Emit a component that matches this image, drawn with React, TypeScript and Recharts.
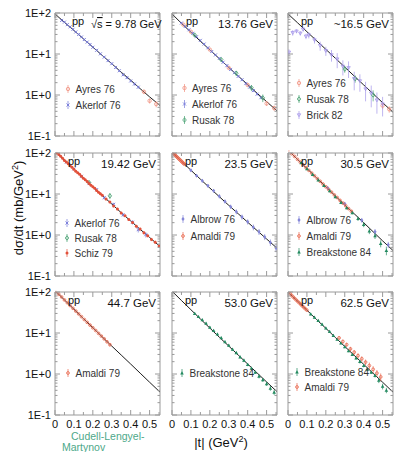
import React from 'react';
import { ComposedChart, Scatter, Line, XAxis, YAxis, ErrorBar } from 'recharts';

type Pt = [number, number, number?];

// ---------- model curve (Cudell-Lengyel-Martynov) ----------
const FIT_T = [0, 0.05, 0.1, 0.15, 0.2, 0.25, 0.3, 0.35, 0.4, 0.45, 0.5, 0.55, 0.6];
const FIT_978 = [95, 59, 37.5, 23.5, 14.7, 9.2, 5.8, 3.6, 2.3, 1.43, 0.9, 0.58, 0.37];
const FIT_1376 = [95, 56, 34, 20.5, 12.6, 7.7, 4.7, 2.9, 1.8, 1.1, 0.69, 0.43, 0.27];
const FIT_165 = [95, 58, 35, 21.3, 13, 7.9, 4.8, 2.9, 1.76, 1.07, 0.65, 0.4, 0.24];
const FIT_1942 = [112, 67, 40.5, 24.5, 15, 9.2, 5.7, 3.5, 2.2, 1.38, 0.87, 0.55, 0.35];
const FIT_235 = [105, 63, 38, 23, 14, 8.6, 5.3, 3.3, 2.05, 1.28, 0.8, 0.5, 0.32];
const FIT_305 = [118, 70, 42, 25, 15, 9, 5.4, 3.3, 2, 1.2, 0.72, 0.44, 0.27];
const FIT_447 = [108, 64, 38, 22.5, 13.5, 8, 4.8, 2.9, 1.75, 1.05, 0.63, 0.38, 0.23];
const FIT_530 = [105, 62, 37, 22, 13.2, 7.9, 4.8, 2.9, 1.75, 1.06, 0.64, 0.39, 0.24];
const FIT_625 = [100, 60, 36, 21.5, 13, 7.8, 4.7, 2.85, 1.72, 1.04, 0.63, 0.38, 0.23];

// ---------- data: [|t|, dsigma/dt, error] ----------
const AYRES_978: Pt[] = [[0.47, 1.2, 0.15], [0.5, 0.72, 0.1], [0.535, 0.6, 0.1]];
const AKERLOF_978: Pt[] = [
  [0.035, 66, 3], [0.05, 60, 3], [0.065, 52, 2.5], [0.08, 46, 2], [0.095, 40, 2], [0.11, 34.5, 1.5],
  [0.125, 30, 1.5], [0.14, 26, 1.2], [0.155, 22.5, 1], [0.17, 19.5, 1], [0.185, 17, 0.8], [0.2, 14.6, 0.7],
  [0.22, 12.3, 0.6], [0.24, 10.1, 0.5], [0.26, 8.4, 0.5], [0.28, 6.9, 0.4], [0.3, 5.8, 0.35], [0.32, 4.7, 0.3],
  [0.34, 3.9, 0.25], [0.36, 3.1, 0.2], [0.38, 2.65, 0.2], [0.4, 2.2, 0.15], [0.42, 1.85, 0.15], [0.44, 1.55, 0.12],
];

const AYRES_1376: Pt[] = [[0.06, 52, 3], [0.1, 35, 2], [0.2, 12.8, 0.8], [0.3, 4.6, 0.3], [0.4, 1.75, 0.15], [0.5, 0.62, 0.08], [0.54, 0.48, 0.07]];
const AKERLOF_1376: Pt[] = [
  [0.05, 57, 3], [0.07, 47, 2.5], [0.09, 39, 2], [0.11, 32, 1.5], [0.13, 26.5, 1.2], [0.15, 21.5, 1], [0.17, 17.5, 0.9],
  [0.19, 14.2, 0.7], [0.21, 11.5, 0.6], [0.23, 9.5, 0.5], [0.25, 7.8, 0.4], [0.27, 6.3, 0.35], [0.29, 5.2, 0.3],
  [0.31, 4.2, 0.25], [0.33, 3.5, 0.2], [0.35, 2.85, 0.18], [0.37, 2.35, 0.15], [0.39, 1.9, 0.12], [0.41, 1.55, 0.1],
  [0.43, 1.28, 0.1], [0.45, 1.05, 0.08], [0.47, 0.86, 0.07],
];
const RUSAK_1376: Pt[] = [[0.12, 29, 3], [0.26, 7.3, 0.8], [0.34, 3.4, 0.5], [0.42, 1.5, 0.25], [0.48, 0.85, 0.18]];

const AYRES_165: Pt[] = [[0.5, 0.55, 0.1], [0.535, 0.45, 0.08]];
const RUSAK_165: Pt[] = [[0.3, 4.3, 0.8], [0.355, 2.5, 0.5], [0.45, 1.0, 0.3]];
const BRICK_165: Pt[] = [
  [0.005, 11, 2], [0.025, 33, 5], [0.045, 36, 4], [0.065, 32, 4], [0.08, 40, 5], [0.095, 27, 4], [0.11, 29, 5],
  [0.14, 22, 4], [0.17, 16, 4], [0.2, 12, 3], [0.23, 9.5, 3], [0.26, 7.5, 3], [0.29, 5.0, 2], [0.32, 4.6, 2],
  [0.35, 2.5, 1.2], [0.38, 2.2, 1.0], [0.41, 1.4, 0.7], [0.44, 1.1, 0.6], [0.47, 0.75, 0.4], [0.5, 0.6, 0.3],
];

const AKERLOF_1942: Pt[] = [
  [0.06, 60, 4], [0.1, 41, 3], [0.14, 27, 2], [0.18, 18, 1.5], [0.22, 12.8, 1], [0.26, 8.1, 0.7],
  [0.31, 5.6, 0.5], [0.36, 3.1, 0.3], [0.41, 2.05, 0.25], [0.44, 1.35, 0.2], [0.48, 1.02, 0.15],
];
const RUSAK_1942: Pt[] = [[0.18, 19, 2], [0.29, 9, 1.5]];
const SCHIZ_1942: Pt[] = [
  [0.01, 100, 6], [0.02, 92, 5], [0.03, 83, 5], [0.04, 74, 4], [0.05, 66, 4], [0.06, 60, 3.5], [0.07, 55, 3],
  [0.08, 49, 2.8], [0.09, 45, 2.5], [0.1, 40, 2.2], [0.11, 36, 2], [0.12, 33, 1.9], [0.13, 30.5, 1.8],
  [0.14, 27, 1.6], [0.15, 24.2, 1.5], [0.16, 22.3, 1.3], [0.17, 20.3, 1.2], [0.18, 18, 1.1], [0.19, 16.3, 1],
  [0.2, 15, 1], [0.21, 13.8, 0.9], [0.22, 12.2, 0.8], [0.23, 11, 0.7], [0.24, 10.2, 0.7], [0.25, 9.3, 0.6],
  [0.27, 7.5, 0.5], [0.29, 6.4, 0.4], [0.31, 5.1, 0.35], [0.33, 4.3, 0.3], [0.35, 3.45, 0.25], [0.37, 2.95, 0.2],
  [0.39, 2.4, 0.18], [0.41, 2.02, 0.15], [0.43, 1.64, 0.13], [0.45, 1.4, 0.11], [0.47, 1.13, 0.1], [0.49, 0.96, 0.08],
  [0.51, 0.78, 0.07], [0.53, 0.67, 0.06], [0.55, 0.54, 0.05],
];

const ALBROW_235: Pt[] = [
  [0.1, 38, 3], [0.13, 28, 2], [0.16, 21, 2], [0.19, 16, 1.5], [0.22, 12, 1.2], [0.25, 8.8, 1], [0.28, 6.6, 0.7],
  [0.31, 4.9, 0.6], [0.34, 3.7, 0.5], [0.37, 2.75, 0.4], [0.4, 2.1, 0.3], [0.43, 1.55, 0.25], [0.46, 1.2, 0.2],
  [0.49, 0.9, 0.15], [0.52, 0.66, 0.12], [0.55, 0.48, 0.1],
];
const AMALDI_235: Pt[] = [
  [0.005, 100, 3], [0.01, 95, 3], [0.015, 90, 3], [0.02, 85.5, 3], [0.025, 81, 3], [0.03, 77, 2.5], [0.035, 73, 2.5],
  [0.04, 69.5, 2.5], [0.045, 66, 2], [0.05, 62.5, 2], [0.055, 59.5, 2], [0.06, 56.5, 2], [0.065, 53.5, 2],
];

const ALBROW_305: Pt[] = [[0.21, 14, 1.5], [0.3, 5.8, 0.6], [0.39, 2.3, 0.3], [0.46, 1.2, 0.2], [0.53, 0.58, 0.1]];
const AMALDI_305: Pt[] = [
  [0.005, 112, 4], [0.02, 96, 3], [0.035, 82.5, 3], [0.05, 70, 2.5], [0.065, 60, 2], [0.08, 51.5, 2], [0.095, 44, 1.5],
  [0.11, 37.8, 1.3], [0.125, 32.4, 1.2], [0.14, 27.8, 1], [0.155, 23.8, 0.9], [0.17, 20.4, 0.8], [0.185, 17.5, 0.7],
  [0.2, 15, 0.6], [0.215, 12.9, 0.5], [0.23, 11.1, 0.5], [0.245, 9.5, 0.4], [0.26, 8.2, 0.4], [0.275, 7.0, 0.35],
  [0.29, 6.0, 0.3], [0.305, 5.15, 0.3], [0.32, 4.4, 0.25], [0.335, 3.8, 0.25],
];
const BREAKSTONE_305: Pt[] = [
  [0.07, 58, 4], [0.1, 41, 3], [0.13, 30, 2], [0.16, 22, 1.5], [0.19, 16, 1.2], [0.22, 12, 1], [0.25, 8.6, 0.7],
  [0.28, 6.2, 0.5], [0.31, 4.6, 0.4], [0.34, 3.5, 0.3], [0.37, 2.5, 0.3], [0.4, 1.8, 0.25], [0.43, 1.25, 0.2],
  [0.46, 0.95, 0.15], [0.49, 0.62, 0.12], [0.52, 0.42, 0.1],
];

const AMALDI_447: Pt[] = [
  [0.005, 103, 4], [0.02, 88, 3], [0.035, 75.5, 3], [0.05, 64, 2.5], [0.065, 54.8, 2], [0.08, 46.8, 2], [0.095, 40, 1.5],
  [0.11, 34.2, 1.3], [0.125, 29.2, 1.2], [0.14, 25, 1], [0.155, 21.3, 0.9], [0.17, 18.2, 0.8], [0.185, 15.6, 0.7],
  [0.2, 13.4, 0.6], [0.215, 11.5, 0.5], [0.23, 9.8, 0.5], [0.245, 8.4, 0.4], [0.26, 7.2, 0.4], [0.275, 6.1, 0.35],
  [0.29, 5.2, 0.5],
];

const BREAKSTONE_530: Pt[] = [
  [0.12, 30, 2], [0.14, 25, 1.5], [0.16, 21, 1.2], [0.18, 17.3, 1], [0.2, 13.8, 0.9], [0.22, 11.4, 0.7], [0.24, 9.4, 0.6],
  [0.26, 7.6, 0.5], [0.28, 6.1, 0.4], [0.3, 5.0, 0.35], [0.32, 4.0, 0.3], [0.34, 3.3, 0.25], [0.36, 2.6, 0.2],
  [0.38, 2.15, 0.2], [0.4, 1.7, 0.15], [0.42, 1.38, 0.12], [0.44, 1.1, 0.1], [0.46, 0.88, 0.1], [0.48, 0.72, 0.08],
  [0.5, 0.58, 0.07], [0.52, 0.45, 0.06], [0.54, 0.36, 0.05],
];

const BREAKSTONE_625: Pt[] = [
  [0.12, 29, 2], [0.14, 24, 1.5], [0.16, 20, 1.2], [0.18, 16.4, 1], [0.2, 13.2, 0.9], [0.22, 10.8, 0.7], [0.24, 8.7, 0.6],
  [0.26, 7.0, 0.5], [0.28, 5.7, 0.4], [0.3, 4.6, 0.35], [0.32, 3.7, 0.3], [0.34, 3.0, 0.25], [0.36, 2.45, 0.2],
  [0.38, 2.0, 0.2], [0.4, 1.6, 0.15], [0.42, 1.3, 0.12], [0.44, 1.1, 0.1], [0.46, 0.92, 0.1], [0.48, 0.7, 0.1],
  [0.5, 0.5, 0.08], [0.52, 0.4, 0.06],
];
const AMALDI_625: Pt[] = [
  [0.004, 98, 3], [0.012, 90, 3], [0.02, 82, 3], [0.028, 75, 2.5], [0.036, 69, 2.5], [0.044, 63.5, 2], [0.052, 58.5, 2],
  [0.06, 54, 2], [0.068, 49.5, 1.8], [0.076, 45.5, 1.6], [0.084, 42, 1.5], [0.092, 38.8, 1.4], [0.1, 36, 1.3],
  [0.27, 7.6, 0.8], [0.29, 6.2, 0.7], [0.31, 5.2, 0.6], [0.33, 4.1, 0.5], [0.35, 3.4, 0.45], [0.37, 2.8, 0.4],
  [0.39, 2.35, 0.35], [0.41, 1.95, 0.3], [0.43, 1.6, 0.3], [0.45, 1.3, 0.25], [0.47, 1.05, 0.2], [0.49, 0.85, 0.18],
];

// ---------- axes ----------
const X_TICKS = [0, 0.05, 0.1, 0.15, 0.2, 0.25, 0.3, 0.35, 0.4, 0.45, 0.5, 0.55];
const X_LABEL_VALUES = [0, 0.1, 0.2, 0.3, 0.4, 0.5];
const X_LABEL_TEXT = ['0', '0.1', '0.2', '0.3', '0.4', '0.5'];
const Y_TICKS = [
  0.1, 0.2, 0.3, 0.4, 0.5, 0.6, 0.7, 0.8, 0.9,
  1, 2, 3, 4, 5, 6, 7, 8, 9,
  10, 20, 30, 40, 50, 60, 70, 80, 90, 100,
];
const Y_LABEL_VALUES = [0.1, 1, 10, 100];
const Y_LABEL_TEXT = ['1E-1', '1E+0', '1E+1', '1E+2'];

// ---------- panels ----------
const ENERGIES = ['9.78 GeV', '13.76 GeV', '~16.5 GeV', '19.42 GeV', '23.5 GeV', '30.5 GeV', '44.7 GeV', '53.0 GeV', '62.5 GeV'];
const FITS = [FIT_978, FIT_1376, FIT_165, FIT_1942, FIT_235, FIT_305, FIT_447, FIT_530, FIT_625];
const SERIES: [string, Pt[]][][] = [
  [['Ayres 76', AYRES_978], ['Akerlof 76', AKERLOF_978]],
  [['Ayres 76', AYRES_1376], ['Akerlof 76', AKERLOF_1376], ['Rusak 78', RUSAK_1376]],
  [['Ayres 76', AYRES_165], ['Rusak 78', RUSAK_165], ['Brick 82', BRICK_165]],
  [['Akerlof 76', AKERLOF_1942], ['Rusak 78', RUSAK_1942], ['Schiz 79', SCHIZ_1942]],
  [['Albrow 76', ALBROW_235], ['Amaldi 79', AMALDI_235]],
  [['Albrow 76', ALBROW_305], ['Amaldi 79', AMALDI_305], ['Breakstone 84', BREAKSTONE_305]],
  [['Amaldi 79', AMALDI_447]],
  [['Breakstone 84', BREAKSTONE_530]],
  [['Breakstone 84', BREAKSTONE_625], ['Amaldi 79', AMALDI_625]],
];

// ---------- styling & layout ----------
const FONT = '"Liberation Sans", Arial, Helvetica, sans-serif';
const FRAME = '#9a9a9a';
const STYLE: Record<string, { color: string; kind: string; size: number }> = {
  'Ayres 76': { color: '#f0907f', kind: 'circle', size: 1.7 },
  'Akerlof 76': { color: '#7478d8', kind: 'cross', size: 1.5 },
  'Rusak 78': { color: '#45a070', kind: 'diamond', size: 1.8 },
  'Brick 82': { color: '#a496ea', kind: 'tridown', size: 1.7 },
  'Schiz 79': { color: '#e2503a', kind: 'dot', size: 1.5 },
  'Albrow 76': { color: '#8486d8', kind: 'diamondFill', size: 1.6 },
  'Amaldi 79': { color: '#e8644a', kind: 'circle', size: 1.4 },
  'Breakstone 84': { color: '#238a60', kind: 'triUp', size: 1.8 },
};

const COL_X = [55, 172, 288];
const ROW_Y = [13, 153, 292];
const PW = 105;
const PH = 123;
const AXIS_W = 55;
const TOP_M = 8;
const BOT_H = 30;
const CW = AXIS_W + PW + 1 + 2;
const CH = TOP_M + 1 + PH + BOT_H;

// legend placement per panel: [marker dx, first row dy, row step]
const LEG = [
  [13, 76, 16], [12.5, 75, 16], [11, 70, 16],
  [12, 70, 15], [11, 66, 17], [11, 67, 16],
  [13, 81, 16], [10, 81, 16], [9, 80, 15],
];
const PP_DX = [17, 14, 13, 13, 13, 13, 13, 13, 13];

function Marker({ kind, x, y, color, s }: { kind: string; x: number; y: number; color: string; s: number }) {
  switch (kind) {
    case 'circle':
      return <circle cx={x} cy={y} r={s} fill="none" stroke={color} strokeWidth={0.8} />;
    case 'dot':
      return <circle cx={x} cy={y} r={s} fill={color} />;
    case 'cross':
      return <path d={`M${x - s},${y - s}L${x + s},${y + s}M${x - s},${y + s}L${x + s},${y - s}`} stroke={color} strokeWidth={0.9} />;
    case 'diamond':
      return <path d={`M${x},${y - s - 0.4}L${x + s},${y}L${x},${y + s + 0.4}L${x - s},${y}Z`} fill="none" stroke={color} strokeWidth={0.8} />;
    case 'diamondFill':
      return <path d={`M${x},${y - s - 0.4}L${x + s},${y}L${x},${y + s + 0.4}L${x - s},${y}Z`} fill={color} />;
    case 'triUp':
      return <path d={`M${x},${y - s}L${x + s},${y + s * 0.8}L${x - s},${y + s * 0.8}Z`} fill={color} />;
    case 'tridown':
      return <path d={`M${x - s},${y - s * 0.7}L${x + s},${y - s * 0.7}L${x},${y + s}Z`} fill="none" stroke={color} strokeWidth={0.8} />;
    default:
      return <circle cx={x} cy={y} r={s} fill={color} />;
  }
}

const near = (a: number, b: number) => Math.abs(a - b) < 1e-9;

function XTick(props: any) {
  const { x, y, payload, side, showLabel } = props;
  const v = payload.value;
  const idx = X_LABEL_VALUES.findIndex((m) => near(m, v));
  const major = idx >= 0;
  const len = major ? 5 : 3;
  const dir = side === 'bottom' ? -1 : 1;
  return (
    <g>
      <line x1={x} x2={x} y1={y} y2={y + dir * len} stroke={FRAME} strokeWidth={1} />
      {showLabel && major && (
        <text x={x} y={y + 13} textAnchor="middle" fontSize={11} fontFamily={FONT} fill="#111">
          {X_LABEL_TEXT[idx]}
        </text>
      )}
    </g>
  );
}

function YTick(props: any) {
  const { x, y, payload, side, showLabel } = props;
  const v = payload.value;
  const idx = Y_LABEL_VALUES.findIndex((m) => Math.abs(m - v) / m < 1e-6);
  const major = idx >= 0;
  const len = major ? 5 : 2.5;
  const dir = side === 'left' ? 1 : -1;
  return (
    <g>
      <line x1={x} x2={x + dir * len} y1={y} y2={y} stroke={FRAME} strokeWidth={1} />
      {showLabel && major && (
        <text x={x - 4} y={y + 4} textAnchor="end" fontSize={11} fontFamily={FONT} fill="#111">
          {Y_LABEL_TEXT[idx]}
        </text>
      )}
    </g>
  );
}

function Panel({ i }: { i: number }) {
  const col = i % 3;
  const row = Math.floor(i / 3);
  const fitData = FIT_T.map((t, k) => ({ t, f: FITS[i][k] }));
  return (
    <div style={{ position: 'absolute', left: COL_X[col] - AXIS_W, top: ROW_Y[row] - TOP_M - 1 }}>
      <ComposedChart width={CW} height={CH} margin={{ top: TOP_M, right: 2, bottom: 0, left: 0 }}>
        <XAxis
          xAxisId="b" dataKey="t" type="number" domain={[0, 0.555]} allowDataOverflow ticks={X_TICKS} interval={0}
          height={BOT_H} tickSize={0} tickMargin={0} tickLine={false} axisLine={{ stroke: FRAME }}
          tick={(p: any) => <XTick {...p} side="bottom" showLabel={row === 2} />}
        />
        <XAxis
          xAxisId="t" orientation="top" dataKey="t" type="number" domain={[0, 0.555]} allowDataOverflow ticks={X_TICKS}
          interval={0} height={1} tickSize={0} tickMargin={0} tickLine={false} axisLine={{ stroke: FRAME }}
          tick={(p: any) => <XTick {...p} side="top" showLabel={false} />}
        />
        <YAxis
          yAxisId="l" type="number" scale="log" domain={[0.1, 100]} allowDataOverflow ticks={Y_TICKS} interval={0}
          width={AXIS_W} tickSize={0} tickMargin={0} tickLine={false} axisLine={{ stroke: FRAME }}
          tick={(p: any) => <YTick {...p} side="left" showLabel={col === 0} />}
        />
        <YAxis
          yAxisId="r" orientation="right" type="number" scale="log" domain={[0.1, 100]} allowDataOverflow ticks={Y_TICKS}
          interval={0} width={1} tickSize={0} tickMargin={0} tickLine={false} axisLine={{ stroke: FRAME }}
          tick={(p: any) => <YTick {...p} side="right" showLabel={false} />}
        />
        <Line
          xAxisId="b" yAxisId="l" data={fitData} dataKey="f" type="linear" stroke="#1b1b1b" strokeWidth={1}
          dot={false} activeDot={false} isAnimationActive={false} legendType="none"
        />
        {SERIES[i].map(([name, pts]) => {
          const st = STYLE[name];
          const data = pts.map(([t, v, e]) => ({ t, v, e: e ?? 0 }));
          return (
            <Scatter
              key={name} name={name} xAxisId="b" yAxisId="l" data={data} dataKey="v" isAnimationActive={false}
              shape={(p: any) => <Marker kind={st.kind} x={p.cx} y={p.cy} color={st.color} s={st.size} />}
            >
              <ErrorBar dataKey="e" direction="y" width={0} stroke={st.color} strokeWidth={0.7} isAnimationActive={false} />
            </Scatter>
          );
        })}
      </ComposedChart>
    </div>
  );
}

function Overlay() {
  return (
    <svg width={394} height={452} style={{ position: 'absolute', left: 0, top: 0, pointerEvents: 'none' }}>
      {ENERGIES.map((en, i) => {
        const col = i % 3;
        const row = Math.floor(i / 3);
        const L = COL_X[col];
        const T = ROW_Y[row];
        const [mx, my, step] = LEG[i];
        return (
          <g key={i} fontFamily={FONT}>
            <text x={L + PP_DX[i]} y={T + 12} fontSize={11} fill="#111">pp</text>
            {i === 0 ? (
              <text x={L + 36} y={T + 15} fontSize={11} fill="#111">
                √<tspan style={{ textDecoration: 'overline' }}>s</tspan> = 9.78 GeV
              </text>
            ) : (
              <text x={L + PW - 4} y={T + 15} fontSize={11.5} textAnchor="end" fill="#111">{en}</text>
            )}
            {SERIES[i].map(([name], k) => {
              const st = STYLE[name];
              const y = T + my + k * step;
              const x = L + mx;
              return (
                <g key={name}>
                  <line x1={x} x2={x} y1={y - 4} y2={y + 4} stroke={st.color} strokeWidth={0.7} />
                  <Marker kind={st.kind} x={x} y={y} color={st.color} s={st.size} />
                  <text x={x + 7.5} y={y + 3.5} fontSize={10} fill="#333">{name}</text>
                </g>
              );
            })}
          </g>
        );
      })}
      <text transform="translate(23,208) rotate(-90)" textAnchor="middle" fontSize={13} fontFamily={FONT} fill="#111">
        dσ/dt (mb/GeV<tspan dy={-5} fontSize={9}>2</tspan><tspan dy={5}>)</tspan>
      </text>
      <text x={221} y={447} textAnchor="middle" fontSize={13} fontFamily={FONT} fill="#111">
        |t| (GeV<tspan dy={-5} fontSize={9}>2</tspan><tspan dy={5}>)</tspan>
      </text>
      <text x={71} y={440} fontSize={10.5} fontFamily={FONT} fill="#4da889">Cudell-Lengyel-</text>
      <text x={62} y={451} fontSize={10.5} fontFamily={FONT} fill="#4da889">Martynov</text>
    </svg>
  );
}

export default function App() {
  return (
    <div style={{ position: 'absolute', left: 0, top: 0, width: 394, height: 452, background: '#fff', overflow: 'hidden' }}>
      {ENERGIES.map((_, i) => (
        <Panel key={i} i={i} />
      ))}
      <Overlay />
    </div>
  );
}
